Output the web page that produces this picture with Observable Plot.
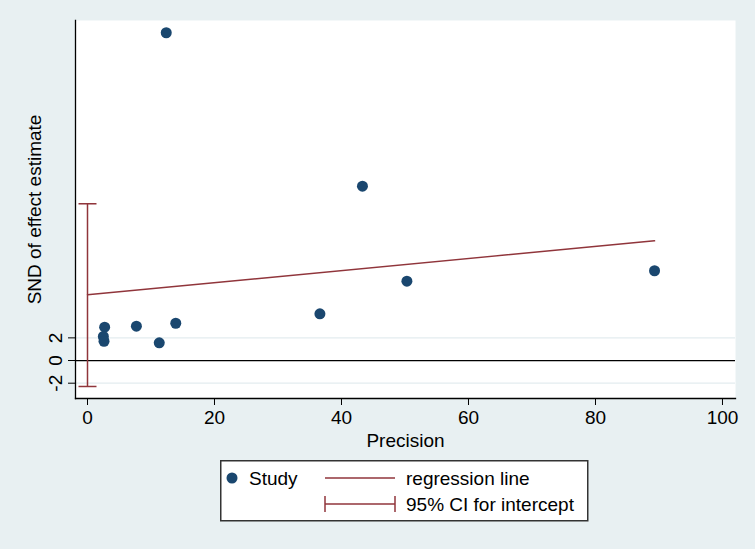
<!DOCTYPE html>
<html>
<head>
<meta charset="utf-8">
<script src="https://cdn.jsdelivr.net/npm/d3@7"></script>
<script src="https://cdn.jsdelivr.net/npm/@observablehq/plot@0.6"></script>
<style>
  html, body { margin: 0; padding: 0; }
  body { width: 755px; height: 549px; background: #e8f0f2; position: relative; overflow: hidden; font-family: "Liberation Sans", Arial, sans-serif; }
  #chart { position: absolute; left: 0; top: 0; }
  #legend { position: absolute; left: 220px; top: 460px; }
</style>
</head>
<body>
<div id="chart"></div>
<div id="legend"></div>
<script>
// Data (Egger test plot)
const precision = [12.4, 43.3, 50.3, 89.3, 36.6, 13.9, 7.7, 2.7, 2.5, 2.6, 11.3];
const snd       = [28.92, 15.38, 7.0, 7.92, 4.12, 3.29, 3.03, 2.94, 2.12, 1.70, 1.56];
const intercept = 5.80;
const slope = 0.0533;
const ciLow = -2.29;
const ciHigh = 13.83;
const xTicks = [0, 20, 40, 60, 80, 100];
const yTicks = [-2, 0, 2];
const yTickLabels = ["-2", "0", "2"];
const xLabel = "Precision";
const yLabel = "SND of effect estimate";
const legendLabels = ["Study", "regression line", "95% CI for intercept"];

const navy = "#1a476f";
const maroon = "#90353b";
const FS = 19;

const studies = precision.map((p, i) => ({precision: p, snd: snd[i]}));
const regX = [0, d3.max(precision)];
const regLine = regX.map(x => ({x, y: intercept + slope * x}));
const yTickData = yTicks.map((v, i) => ({v, label: yTickLabels[i]}));

const hbar = {
  draw(context, size) {
    const r = Math.sqrt(size / Math.PI);
    context.moveTo(-r, 0);
    context.lineTo(r, 0);
  }
};

const chart = Plot.plot({
  width: 755,
  height: 455,
  marginLeft: 75,
  marginRight: 20,
  marginTop: 20,
  marginBottom: 57,
  style: {background: "transparent", fontFamily: "'Liberation Sans', Arial, sans-serif", fontSize: FS + "px", color: "#000", overflow: "visible"},
  x: {domain: [-1.89, 102.05]},
  y: {domain: [-3.35, 30.0]},
  marks: [
    Plot.frame({fill: "white", stroke: "none"}),
    Plot.gridY(yTicks.filter(d => d !== 0), {stroke: "#e3ecef", strokeOpacity: 1, strokeWidth: 1.2}),
    Plot.ruleY([0], {stroke: "#000", strokeWidth: 1.3}),
    Plot.frame({anchor: "left", stroke: "#000", strokeWidth: 1.3}),
    Plot.frame({anchor: "bottom", stroke: "#000", strokeWidth: 1.3}),
    Plot.axisX({ticks: xTicks, tickSize: 7, tickPadding: 5, tickFormat: d => String(d), label: null, fontSize: FS}),
    Plot.axisY({ticks: yTicks, tickSize: 7, tickFormat: () => "", label: null}),
    Plot.text(yTickData, {y: "v", text: "label", frameAnchor: "left", rotate: -90, dx: -20, fontSize: FS, textAnchor: "middle", lineAnchor: "middle"}),
    Plot.text([xLabel], {frameAnchor: "bottom", dy: 35, lineAnchor: "top", textAnchor: "middle", fontSize: FS}),
    Plot.text([yLabel], {frameAnchor: "left", rotate: -90, dx: -41, fontSize: FS, textAnchor: "middle", lineAnchor: "middle"}),
    Plot.ruleX([0], {y1: ciLow, y2: ciHigh, stroke: maroon, strokeWidth: 1.5}),
    Plot.dot([ciLow, ciHigh], {x: () => 0, y: d => d, symbol: hbar, r: 9, stroke: maroon, strokeWidth: 1.5, fill: "none"}),
    Plot.line(regLine, {x: "x", y: "y", stroke: maroon, strokeWidth: 1.5}),
    Plot.dot(studies, {x: "precision", y: "snd", r: 5.5, fill: navy, stroke: "none"})
  ]
});
document.getElementById("chart").appendChild(chart);

// Legend
const lg = d3.select("#legend").append("svg")
  .attr("width", 369).attr("height", 62)
  .style("font-family", "'Liberation Sans', Arial, sans-serif")
  .style("font-size", FS + "px");
lg.append("rect").attr("x", 0.75).attr("y", 0.75).attr("width", 367).attr("height", 60)
  .attr("fill", "white").attr("stroke", "#333").attr("stroke-width", 1.5);
lg.append("circle").attr("cx", 12).attr("cy", 18).attr("r", 5.5).attr("fill", navy);
lg.append("text").attr("x", 29).attr("y", 24.5).text(legendLabels[0]);
lg.append("line").attr("x1", 105).attr("x2", 175).attr("y1", 18).attr("y2", 18).attr("stroke", maroon).attr("stroke-width", 1.5);
lg.append("text").attr("x", 186).attr("y", 24.5).text(legendLabels[1]);
lg.append("line").attr("x1", 105).attr("x2", 175).attr("y1", 44).attr("y2", 44).attr("stroke", maroon).attr("stroke-width", 1.5);
lg.append("line").attr("x1", 105).attr("x2", 105).attr("y1", 36).attr("y2", 52).attr("stroke", maroon).attr("stroke-width", 1.5);
lg.append("line").attr("x1", 175).attr("x2", 175).attr("y1", 36).attr("y2", 52).attr("stroke", maroon).attr("stroke-width", 1.5);
lg.append("text").attr("x", 186).attr("y", 50.5).text(legendLabels[2]);
</script>
</body>
</html>
